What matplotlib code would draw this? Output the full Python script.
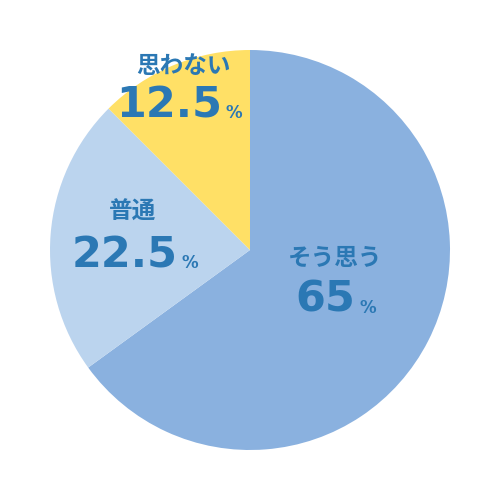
import matplotlib.pyplot as plt

plt.rcParams['font.family'] = ['Noto Sans CJK JP', 'DejaVu Sans']

labels = ["そう思う", "普通", "思わない"]
values = [65, 22.5, 12.5]
value_text = ["65", "22.5", "12.5"]
colors = ["#8AB1DF", "#BBD4EE", "#FFE066"]
text_color = "#2B78B4"

# label anchor positions in pixels (center of label, baseline row)
label_px = [(335, 258), (133, 212), (183, 66)]
num_px = [(355, 300), (178, 255), (222, 105)]


def to_data(px, py):
    return (px - 250) / 200, (250 - py) / 200


fig = plt.figure(figsize=(5, 5), dpi=100)
ax = fig.add_axes([0, 0, 1, 1])
ax.pie(values, colors=colors, startangle=90, counterclock=False, radius=1,
       wedgeprops=dict(linewidth=0))
ax.set_xlim(-1.25, 1.25)
ax.set_ylim(-1.25, 1.25)
ax.set_aspect("equal")
ax.axis("off")

for lab, val, (lx, ly), (nx, ny) in zip(labels, value_text, label_px, num_px):
    x, y = to_data(lx, ly)
    ax.text(x, y, lab, color=text_color, fontsize=17, fontweight="bold",
            ha="center", va="center")
    x, y = to_data(nx, ny)
    ax.text(x, y, val, color=text_color, fontsize=31, fontweight="bold",
            ha="right", va="center", family="DejaVu Sans")
    ax.text(x + 0.02, y - 0.04, "%", color=text_color, fontsize=12,
            fontweight="bold", ha="left", va="center", family="DejaVu Sans")

fig.savefig("out.png", dpi=100)
